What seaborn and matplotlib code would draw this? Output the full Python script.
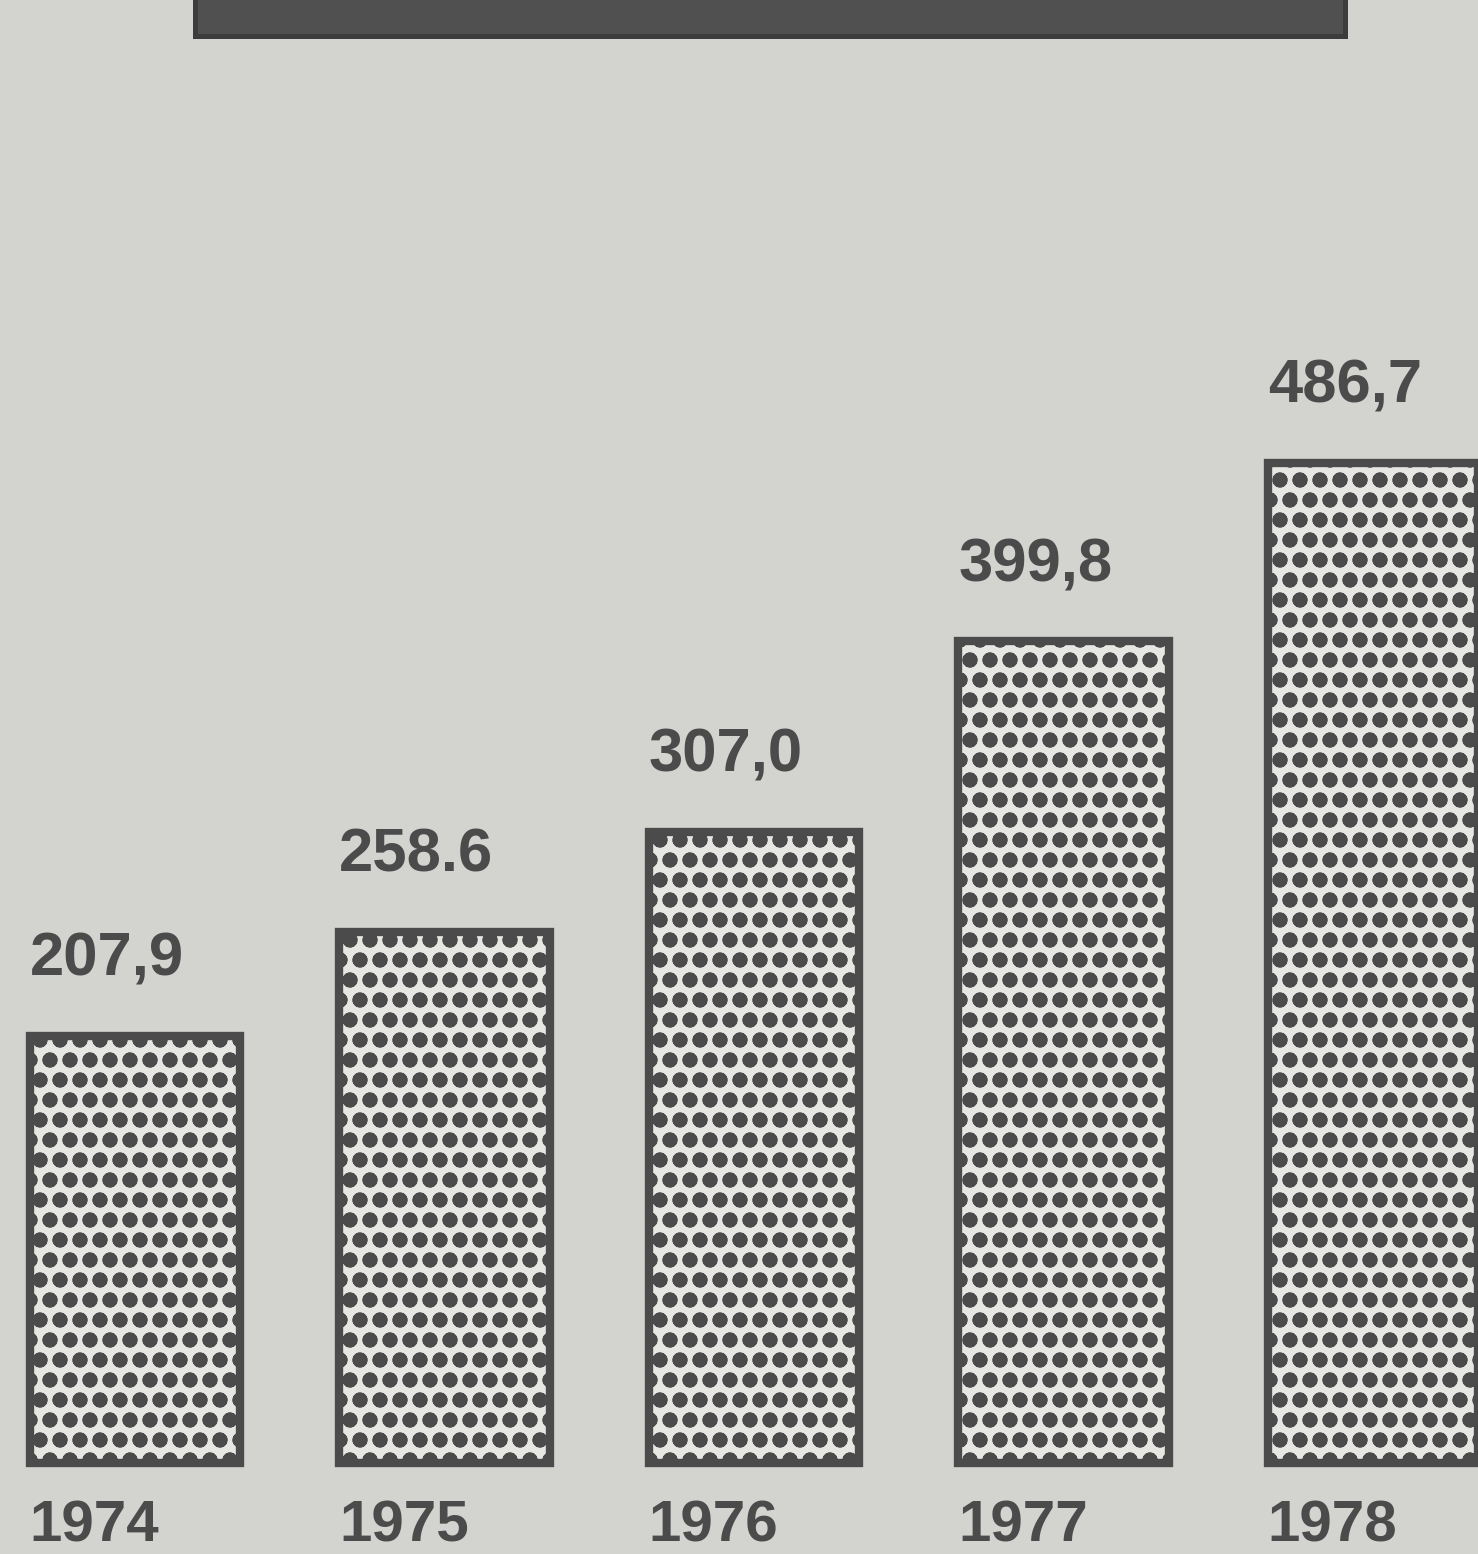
import matplotlib
matplotlib.use("Agg")
import matplotlib.pyplot as plt
import seaborn as sns
import pandas as pd
from matplotlib.patches import Rectangle

years = ["1974", "1975", "1976", "1977", "1978"]
values = [207.9, 258.6, 307.0, 399.8, 486.7]
value_labels = ["207,9", "258.6", "307,0", "399,8", "486,7"]

bg = "#d3d3d0"
ink = "#4b4b4b"

sns.set_style("white")
plt.rcParams["font.family"] = ["Liberation Sans", "DejaVu Sans"]
plt.rcParams["hatch.linewidth"] = 4.3
plt.rcParams["hatch.color"] = "#555555"

dpi = 120
fig = plt.figure(figsize=(1478 / dpi, 1554 / dpi), dpi=dpi, facecolor=bg)
ax = fig.add_axes([0, 0, 1, 1])
ax.set_facecolor("none")

df = pd.DataFrame({"year": years, "value": values})
sns.barplot(data=df, x="year", y="value", color="#e6e6e3", saturation=1,
            width=0.68, edgecolor=ink, linewidth=5, hatch="o", ax=ax)

ax.set_xlim(-0.436, 4.339)
ax.set_ylim(-44.3, 711.9)

# value labels sit above each bar, flush with its left edge
for i, (v, lab) in enumerate(zip(values, value_labels)):
    ax.text(i - 0.34, v + 23, lab, ha="left", va="bottom", fontsize=37,
            fontweight="bold", color=ink)

# years under the bars (cut by the page edge in the clipping)
for i, yr in enumerate(years):
    ax.text(i - 0.34, -18, yr, ha="left", va="top", fontsize=35,
            fontweight="bold", color=ink)

ax.set_xlabel("")
ax.set_ylabel("")
ax.set_xticks([])
ax.set_yticks([])
for s in ax.spines.values():
    s.set_visible(False)

# dark title box cut off at the top edge
fig.patches.append(Rectangle((195 / 1478, 1 - 36 / 1554), 1150 / 1478, 0.05,
                             transform=fig.transFigure, facecolor="#505050",
                             edgecolor="#3c3c3c", linewidth=3, zorder=5))

fig.savefig("out.png", dpi=dpi, facecolor=bg)
